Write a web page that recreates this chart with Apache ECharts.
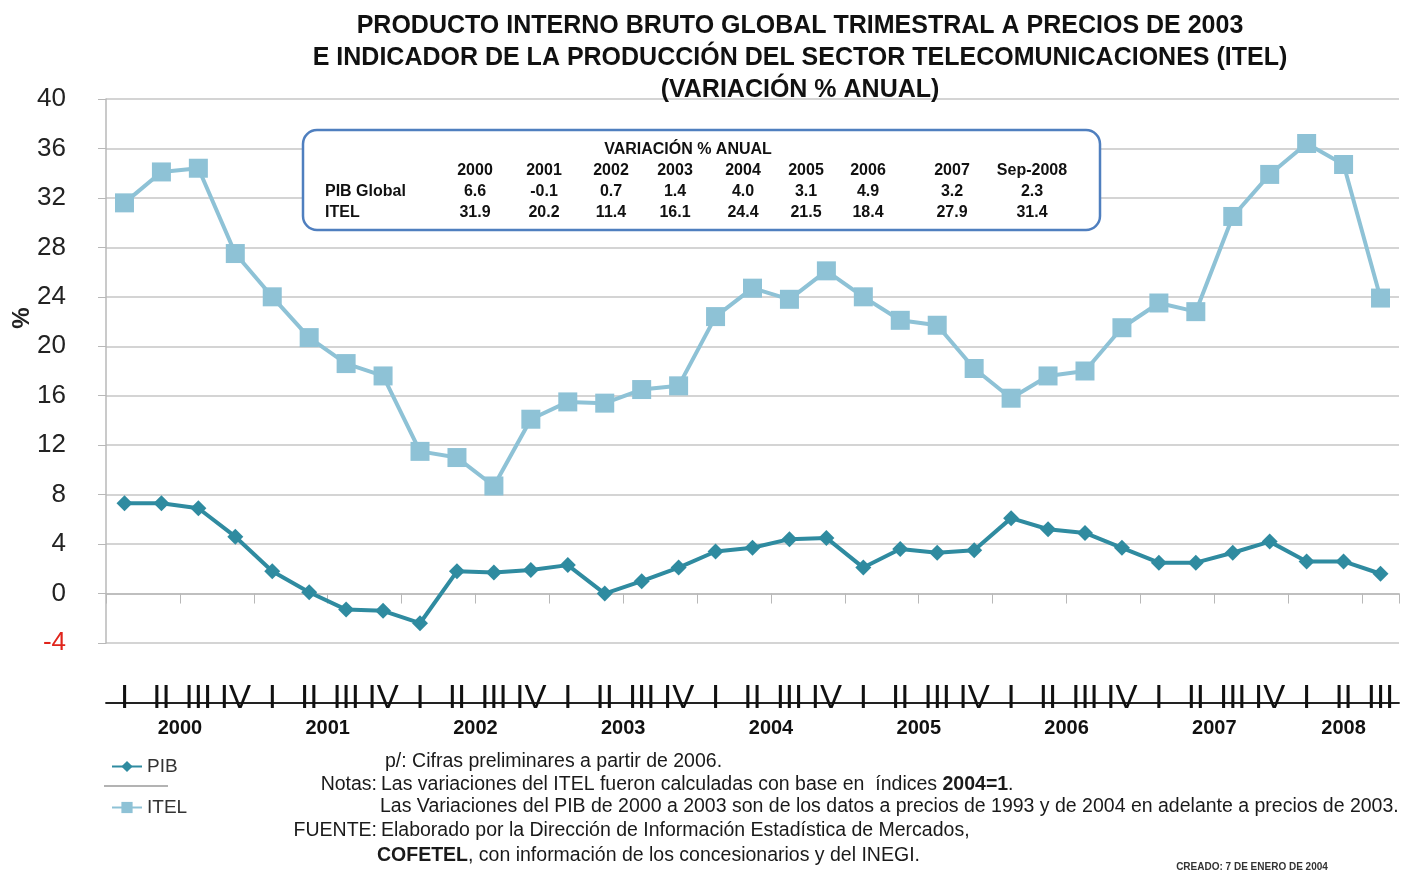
<!DOCTYPE html>
<html>
<head>
<meta charset="utf-8">
<script src="https://cdn.jsdelivr.net/npm/echarts@6/dist/echarts.min.js"></script>
<style>html,body{margin:0;padding:0;background:#fff}#c{width:1401px;height:872px}</style>
</head>
<body>
<div id="c"></div>
<script>
// ---------- DATA ----------
const years = ['2000','2001','2002','2003','2004','2005','2006','2007','2008'];
const quarters = ['I','II','III','IV'];
const pibValues = [7.3,7.3,6.9,4.6,1.8,0.1,-1.3,-1.4,-2.4,1.8,1.7,1.9,2.3,0.0,1.0,2.1,3.4,3.7,4.4,4.5,2.1,3.6,3.3,3.5,6.1,5.2,4.9,3.7,2.5,2.5,3.3,4.2,2.6,2.6,1.6];
const itelValues = [31.6,34.1,34.4,27.5,24.0,20.7,18.6,17.6,11.5,11.0,8.7,14.1,15.5,15.4,16.5,16.8,22.4,24.7,23.8,26.1,24.0,22.1,21.7,18.2,15.8,17.6,18.0,21.5,23.5,22.8,30.5,33.9,36.4,34.7,23.9];
const tableYears = ['2000','2001','2002','2003','2004','2005','2006','2007','Sep-2008'];
const tablePib = ['6.6','-0.1','0.7','1.4','4.0','3.1','4.9','3.2','2.3'];
const tableItel = ['31.9','20.2','11.4','16.1','24.4','21.5','18.4','27.9','31.4'];
const yTicks = {min:-4, max:40, interval:4};

// categories: year + quarter (2008 only up to III)
const categories = [];
years.forEach(y => quarters.forEach(q => { if (categories.length < pibValues.length) categories.push(y + '-' + q); }));

// ---------- LAYOUT / STYLE ----------
const NARROW = '"Liberation Sans Narrow","Arial Narrow","Liberation Sans",Arial,sans-serif';
const ARIAL = '"Liberation Sans",Arial,sans-serif';
const PIB_COLOR = '#2f8ba0';
const ITEL_COLOR = '#8ec2d6';
const tableCols = [475,544,611,675,743,806,868,952,1032];

const chart = echarts.init(document.getElementById('c'), null, {renderer:'canvas'});

const graphics = [];
// table box
graphics.push({type:'rect', shape:{x:303,y:130,width:797,height:100,r:14}, style:{fill:'#fff',stroke:'#4f7fbf',lineWidth:2.5}, z:50});
graphics.push({type:'text', x:688, y:150, style:{text:'VARIACIÓN % ANUAL', font:'bold 16px '+NARROW, fill:'#111', align:'center', verticalAlign:'middle'}, z:51});
graphics.push({type:'text', x:325, y:192, style:{text:'PIB Global', font:'bold 16px '+NARROW, fill:'#111', align:'left', verticalAlign:'middle'}, z:51});
graphics.push({type:'text', x:325, y:213, style:{text:'ITEL', font:'bold 16px '+NARROW, fill:'#111', align:'left', verticalAlign:'middle'}, z:51});
tableYears.forEach((t,i) => {
  graphics.push({type:'text', x:tableCols[i], y:171, style:{text:t, font:'bold 16px '+NARROW, fill:'#111', align:'center', verticalAlign:'middle'}, z:51});
  graphics.push({type:'text', x:tableCols[i], y:192, style:{text:tablePib[i], font:'bold 16px '+NARROW, fill:'#111', align:'center', verticalAlign:'middle'}, z:51});
  graphics.push({type:'text', x:tableCols[i], y:213, style:{text:tableItel[i], font:'bold 16px '+NARROW, fill:'#111', align:'center', verticalAlign:'middle'}, z:51});
});
// y axis name
graphics.push({type:'text', x:22, y:318, rotation:Math.PI/2, style:{text:'%', font:'bold 24px '+ARIAL, fill:'#222', align:'center', verticalAlign:'middle'}});
// legend separator
graphics.push({type:'line', shape:{x1:104,y1:786,x2:168,y2:786}, style:{stroke:'#9a9a9a',lineWidth:1.5}});
// notes
const noteFont = '19.5px '+NARROW;
const noteBold = 'bold 19.5px '+NARROW;
const notes = [
  {y:762, label:'', body:[['p/: Cifras preliminares a partir de 2006.',false]], x:385},
  {y:785, label:'Notas:', body:[['Las variaciones del ITEL fueron calculadas con base en  índices ',false],['2004=1',true],['.',false]], x:381},
  {y:807, label:'', body:[['Las Variaciones del PIB de 2000 a 2003 son de los datos a precios de 1993 y de 2004 en adelante a precios de 2003.',false]], x:380},
  {y:831, label:'FUENTE:', body:[['Elaborado por la Dirección de Información Estadística de Mercados,',false]], x:381},
  {y:856, label:'', body:[['COFETEL',true],[', con información de los concesionarios y del INEGI.',false]], x:377}
];
notes.forEach(n => {
  if (n.label) graphics.push({type:'text', x:377, y:n.y, style:{text:n.label, font:noteFont, fill:'#1a1a1a', align:'right', verticalAlign:'middle'}});
  graphics.push({type:'text', x:n.x, y:n.y, style:{
    text: n.body.map(p => p[1] ? '{b|'+p[0]+'}' : '{n|'+p[0]+'}').join(''),
    rich:{n:{font:noteFont, fill:'#1a1a1a'}, b:{font:noteBold, fill:'#1a1a1a'}},
    align:'left', verticalAlign:'middle'}});
});
graphics.push({type:'text', x:1252, y:867, style:{text:'CREADO: 7 DE ENERO DE 2004', font:'bold 10px '+NARROW, fill:'#333', align:'center', verticalAlign:'middle'}});

const option = {
  backgroundColor:'#fff',
  animation:false,
  title:{
    text:'PRODUCTO INTERNO BRUTO GLOBAL TRIMESTRAL A PRECIOS DE 2003\nE INDICADOR DE LA PRODUCCIÓN DEL SECTOR TELECOMUNICACIONES (ITEL)\n(VARIACIÓN % ANUAL)',
    left:795, top:5, textAlign:'center',
    textStyle:{fontFamily:NARROW, fontWeight:'bold', fontSize:25, lineHeight:32, color:'#111'}
  },
  legend:{
    data:['PIB','ITEL'], orient:'vertical', left:106, top:752, itemWidth:30, itemHeight:14, itemGap:22,
    textStyle:{fontFamily:NARROW, fontSize:19, color:'#333'}
  },
  grid:{left:106, right:2, top:99, bottom:229, containLabel:false},
  xAxis:[
    {type:'category', data:categories, boundaryGap:true,
     axisLine:{onZero:true, lineStyle:{color:'#b8b8b8', width:1.5}},
     axisTick:{show:true, length:10, inside:false, lineStyle:{color:'#b8b8b8'}},
     axisLabel:{show:false}, splitLine:{show:false}},
    {type:'category', data:categories, boundaryGap:true, position:'bottom', offset:60,
     axisLine:{onZero:false, lineStyle:{color:'#222', width:1.8}},
     axisTick:{show:false},
     axisLabel:{interval:0, margin:12, verticalAlign:'bottom', fontFamily:NARROW, fontSize:33, lineHeight:33, color:'#111',
       formatter:(v) => v.split('-')[1]}},
    {type:'category', data:categories, boundaryGap:true, position:'bottom', offset:84,
     axisLine:{show:false, onZero:false}, axisTick:{show:false},
     axisLabel:{interval:0, margin:1, verticalAlign:'middle', fontFamily:ARIAL, fontWeight:'bold', fontSize:20, color:'#111',
       formatter:(v, i) => {
         const parts = v.split('-');
         if (parts[1] !== 'II') return '';
         const lastYearShort = categories.filter(c => c.startsWith(parts[0])).length < 4;
         return lastYearShort ? '{c|'+parts[0]+'}' : '{s|'+parts[0]+'}';
       },
       rich:{s:{padding:[0,0,0,37], fontFamily:ARIAL, fontWeight:'bold', fontSize:20, color:'#111'},
             c:{fontFamily:ARIAL, fontWeight:'bold', fontSize:20, color:'#111'}}}}
  ],
  yAxis:{
    type:'value', min:yTicks.min, max:yTicks.max, interval:yTicks.interval,
    axisLine:{show:true, lineStyle:{color:'#b8b8b8', width:1.5}},
    axisTick:{show:true, length:8, lineStyle:{color:'#b8b8b8'}},
    axisLabel:{margin:40, fontFamily:NARROW, fontSize:26, color:(v) => (Number(v) < 0 ? '#e0241b' : '#222')},
    splitLine:{show:true, lineStyle:{color:'#c6c6c6', width:1.5}}
  },
  series:[
    {name:'PIB', type:'line', data:pibValues, xAxisIndex:0,
     symbol:'diamond', symbolSize:16, lineStyle:{color:PIB_COLOR, width:4}, itemStyle:{color:PIB_COLOR}, z:3},
    {name:'ITEL', type:'line', data:itelValues, xAxisIndex:0,
     symbol:'rect', symbolSize:19, lineStyle:{color:ITEL_COLOR, width:4}, itemStyle:{color:ITEL_COLOR}, z:4}
  ],
  graphic:graphics
};
chart.setOption(option);
</script>
</body>
</html>
